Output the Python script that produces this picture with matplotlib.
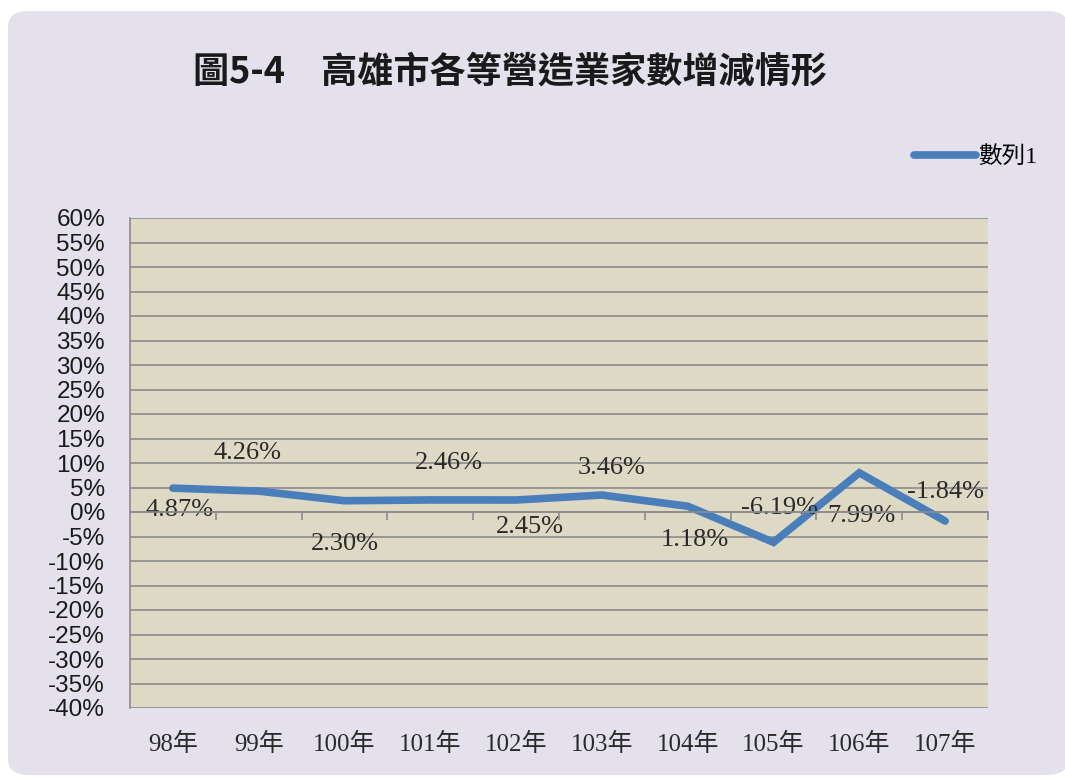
import matplotlib.pyplot as plt
from matplotlib.patches import FancyBboxPatch
from matplotlib.ticker import MultipleLocator, FuncFormatter

years = ['98年', '99年', '100年', '101年', '102年', '103年', '104年', '105年', '106年', '107年']
values = [4.87, 4.26, 2.30, 2.46, 2.45, 3.46, 1.18, -6.19, 7.99, -1.84]
label_offsets = [(7, -22), (-11, 38), (0, -43), (19, 37), (14, -27),
                 (10, 27), (7, -34), (6, 34), (2, -43), (0, 29)]

serif_cjk = ['Liberation Serif', 'Noto Sans CJK TC']
line_color = '#4A7EBB'

fig = plt.figure(figsize=(10.65, 7.81), dpi=100, facecolor='white')
bg = FancyBboxPatch((8 / 1065, 6 / 781), 1060 / 1065, 764 / 781,
                    boxstyle='round,pad=0,rounding_size=0.02',
                    transform=fig.transFigure, facecolor='#E4E0EC',
                    edgecolor='none', zorder=-10)
fig.patches.append(bg)

ax = fig.add_axes([130 / 1065, 1 - 708 / 781, 858 / 1065, 490 / 781])
ax.set_facecolor('#DDD9C4')
x = list(range(len(years)))
ax.plot(x, values, color=line_color, lw=5.5, solid_capstyle='round',
        solid_joinstyle='miter', zorder=3)

ax.set_xlim(-0.5, len(years) - 0.5)
ax.set_ylim(-40, 60)
ax.yaxis.set_major_locator(MultipleLocator(5))
ax.yaxis.set_major_formatter(FuncFormatter(lambda v, p: f'{v:.0f}%'))
ax.grid(axis='y', color='#8C8C8C', lw=1.2)
ax.set_axisbelow(True)
ax.set_xticks(x)
ax.set_xticklabels(years, fontfamily=serif_cjk, fontsize=18, color='#2A2A2A')
ax.tick_params(axis='x', length=0, pad=18)
ax.tick_params(axis='y', length=0, pad=18, labelsize=17.5, labelcolor='#1A1A1A')
for lab in ax.get_yticklabels():
    lab.set_fontfamily('Liberation Sans')
for s in ['top', 'right', 'bottom']:
    ax.spines[s].set_visible(False)
ax.spines['left'].set_color('#8C8C8C')
ax.spines['left'].set_linewidth(1.2)

# zero axis with category boundary ticks
ax2 = ax.twiny()
ax2.set_xlim(ax.get_xlim())
for s in ['top', 'right', 'left']:
    ax2.spines[s].set_visible(False)
ax2.spines['bottom'].set_position(('data', 0))
ax2.spines['bottom'].set_color('#8C8C8C')
ax2.spines['bottom'].set_linewidth(1.2)
ax2.xaxis.set_ticks_position('bottom')
ax2.set_xticks([i + 0.5 for i in x])
ax2.set_xticklabels([])
ax2.tick_params(axis='x', direction='out', length=6, color='#8C8C8C', width=1.2)

for xi, v, (dx, dy) in zip(x, values, label_offsets):
    ax.annotate(f'{v:.2f}%', (xi, v), xytext=(dx, dy), textcoords='offset pixels',
                ha='center', va='center', fontsize=19, fontfamily=serif_cjk,
                color='#2A2A2A', zorder=4)

fig.text(510 / 1065, 1 - 72 / 781, '圖5-4　高雄市各等營造業家數增減情形',
         ha='center', va='center', fontsize=26, fontweight='bold',
         fontfamily=['Noto Sans CJK TC', 'DejaVu Sans'], color='#1A1A1A')

handle, = ax.plot([], [], color=line_color, lw=5.5, solid_capstyle='round')
fig.legend([handle], ['數列1'], loc='center left',
           bbox_to_anchor=(893 / 1065, 1 - 157 / 781), frameon=False,
           handlelength=2.6, handletextpad=0.1,
           prop={'family': serif_cjk, 'size': 17})

fig.savefig('out.png', dpi=100, facecolor=fig.get_facecolor())
